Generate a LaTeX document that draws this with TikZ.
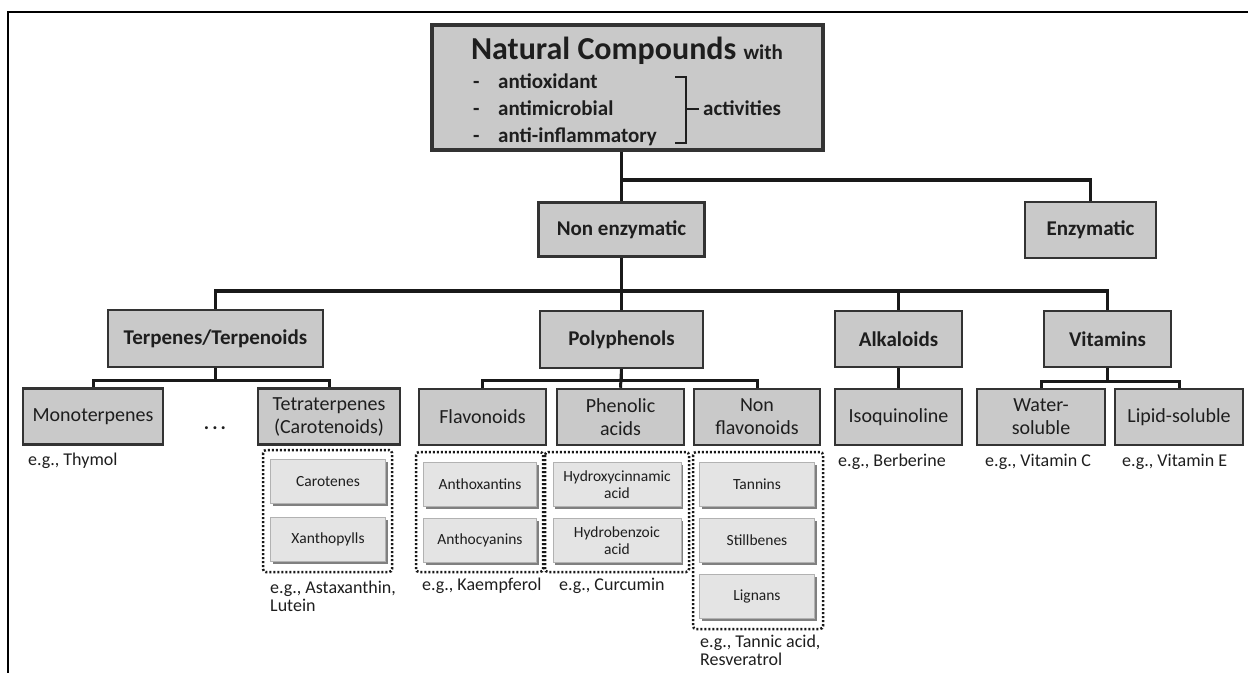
\documentclass[tikz,border=0pt]{standalone}
\usepackage{fontspec}
\setmainfont{Carlito}
\usetikzlibrary{shadows}
\definecolor{boxgray}{HTML}{C9C9C9}
\definecolor{innergray}{HTML}{E4E4E4}
\definecolor{txt}{HTML}{1E1E1E}
\tikzset{
  mainbox/.style={draw=black!80, line width=2.5pt, fill=boxgray, inner sep=0pt, align=center, text=txt},
  lvltwo/.style={mainbox, font=\fontsize{21}{23}\selectfont\bfseries},
  lvlthree/.style={mainbox, font=\fontsize{20}{23}\selectfont, minimum height=56pt},
  innerbox/.style={draw=black!30, line width=1pt, fill=innergray, inner sep=0pt, align=center, text=txt,
    minimum height=44pt, font=\fontsize{15.5}{17}\selectfont,
    drop shadow={shadow xshift=2pt, shadow yshift=-2pt, fill=black!50, opacity=1}},
  conn/.style={draw=black!90, line width=3.5pt},
  grp/.style={draw=black!90, line width=2.5pt, dash pattern=on 2pt off 2pt, rounded corners=3pt},
  eg/.style={anchor=base west, inner sep=0pt, text=txt, font=\fontsize{18}{21}\selectfont},
  ttl/.style={anchor=base west, inner sep=0pt, text=txt, font=\fontsize{21}{23}\selectfont\bfseries}
}
\begin{document}
\begin{tikzpicture}[x=1pt,y=-1pt]
\useasboundingbox (0,0) rectangle (1248,673);
% frame
\draw[line width=1.3pt] (1248,12) -- (8,12) -- (8,673);

% top box
\node[mainbox, line width=4pt, minimum width=391pt, minimum height=125pt] (top) at (627.5,87.5) {};
\node[anchor=base, inner sep=0pt, text=txt] (title) at (627,59)
  {\fontsize{32}{34}\selectfont\bfseries Natural Compounds {\fontsize{21}{23}\selectfont with}};
\node[ttl] (d1) at (473,88) {-};
\node[ttl] (d2) at (473,115) {-};
\node[ttl] (d3) at (473,142) {-};
\node[ttl] (i1) at (498,88) {antioxidant};
\node[ttl] (i2) at (498,115) {antimicrobial};
\node[ttl] (i3) at (498,142) {anti-inflammatory};
\node[ttl] (act) at (703,115) {activities};
\coordinate (bt) at (686,77);
\coordinate (bb) at (686,143);
\coordinate (bm) at (686,109);
\draw[line width=2pt, draw=txt] (675,77) -- (bt) -- (bb) -- (675,143);
\draw[line width=2pt, draw=txt] (bm) -- (699,109);

% level 1
\node[lvltwo, minimum width=166pt, minimum height=54pt] (ne) at (621.5,229.5) {Non enzymatic};
\node[lvltwo, minimum width=131pt, minimum height=56pt] (enz) at (1090.5,230) {Enzymatic};
\coordinate (j1) at (621.5,180);
\draw[conn] (top.south -| ne.north) -- (ne.north);
\draw[conn] (j1) -| (enz.north);

% level 2
\node[lvltwo, minimum width=215pt, minimum height=57pt] (terp) at (215.5,338.5) {Terpenes/Terpenoids};
\node[lvltwo, minimum width=163pt, minimum height=57pt] (poly) at (621.5,339.5) {Polyphenols};
\node[lvltwo, minimum width=127pt, minimum height=56pt] (alk) at (898.5,339) {Alkaloids};
\node[lvltwo, minimum width=127pt, minimum height=56pt] (vit) at (1107.5,339) {Vitamins};
\coordinate (j2) at (621.5,291);
\draw[conn] (ne.south) -- (poly.north);
\draw[conn] (j2) -| (terp.north);
\draw[conn] (j2) -| (alk.north);
\draw[conn] (j2) -| (vit.north);

% level 3
\node[lvlthree, minimum width=140pt] (mono) at (93,416.5) {Monoterpenes};
\node[lvlthree, minimum width=142pt] (tetra) at (329,416.5) {Tetraterpenes\\(Carotenoids)};
\node[lvlthree, minimum width=127pt] (flav) at (482.5,417) {Flavonoids};
\node[lvlthree, minimum width=127pt] (phen) at (620.5,417) {Phenolic\\acids};
\node[lvlthree, minimum width=126pt] (nonf) at (757,417) {Non\\flavonoids};
\node[lvlthree, minimum width=127pt] (iso) at (898.5,417) {Isoquinoline};
\node[lvlthree, minimum width=128pt] (water) at (1041,417) {Water-\\soluble};
\node[lvlthree, minimum width=128pt] (lipid) at (1179,417) {Lipid-soluble};
\node[inner sep=0pt, text=txt, font=\fontsize{20}{22}\selectfont\bfseries] (dots) at (215,428) {.\hspace{3pt}.\hspace{3pt}.};

\draw[conn, line width=3pt] (terp.south) -- ++(0,12) -| (mono.north);
\draw[conn, line width=3pt] (terp.south) -- ++(0,12) -| (tetra.north);
\draw[conn, line width=3pt] (poly.south) -- ++(0,11) -| (flav.north);
\draw[conn, line width=3pt] (poly.south) -- (phen.north);
\draw[conn, line width=3pt] (poly.south) -- ++(0,11) -| (nonf.north);
\draw[conn, line width=3pt] (alk.south) -- (iso.north);
\draw[conn, line width=3pt] (vit.south) -- ++(0,13) -| (water.north);
\draw[conn, line width=3pt] (vit.south) -- ++(0,13) -| (lipid.north);

% groups
\draw[grp] (263,450) rectangle (392,572);
\draw[grp] (416,452) rectangle (543,572);
\draw[grp] (545,452) rectangle (689,572);
\draw[grp] (693,452) rectangle (823,629);

% inner boxes
\node[innerbox, minimum width=115pt] (car) at (328,481.5) {Carotenes};
\node[innerbox, minimum width=115pt] (xan) at (328,539.5) {Xanthopylls};
\node[innerbox, minimum width=113pt] (antx) at (480,484.5) {Anthoxantins};
\node[innerbox, minimum width=113pt] (anty) at (480,540.5) {Anthocyanins};
\node[innerbox, minimum width=128pt] (hyc) at (617,484.5) {Hydroxycinnamic\\acid};
\node[innerbox, minimum width=128pt] (hyb) at (617,540.5) {Hydrobenzoic\\acid};
\node[innerbox, minimum width=115pt] (tan) at (757,484.5) {Tannins};
\node[innerbox, minimum width=115pt] (sti) at (757,540.5) {Stillbenes};
\node[innerbox, minimum width=115pt] (lig) at (757,596.5) {Lignans};

% examples
\node[eg] (e1) at (28,465) {e.g., Thymol};
\node[eg] (e2) at (270,593) {e.g., Astaxanthin,};
\node[eg] (e2b) at (270,611) {Lutein};
\node[eg] (e3) at (422,590) {e.g., Kaempferol};
\node[eg] (e4) at (559,590) {e.g., Curcumin};
\node[eg] (e5) at (700,647) {e.g., Tannic acid,};
\node[eg] (e5b) at (700,665) {Resveratrol};
\node[eg] (e6) at (838,466) {e.g., Berberine};
\node[eg] (e7) at (985,466) {e.g., Vitamin C};
\node[eg] (e8) at (1122,466) {e.g., Vitamin E};
\end{tikzpicture}
\end{document}
